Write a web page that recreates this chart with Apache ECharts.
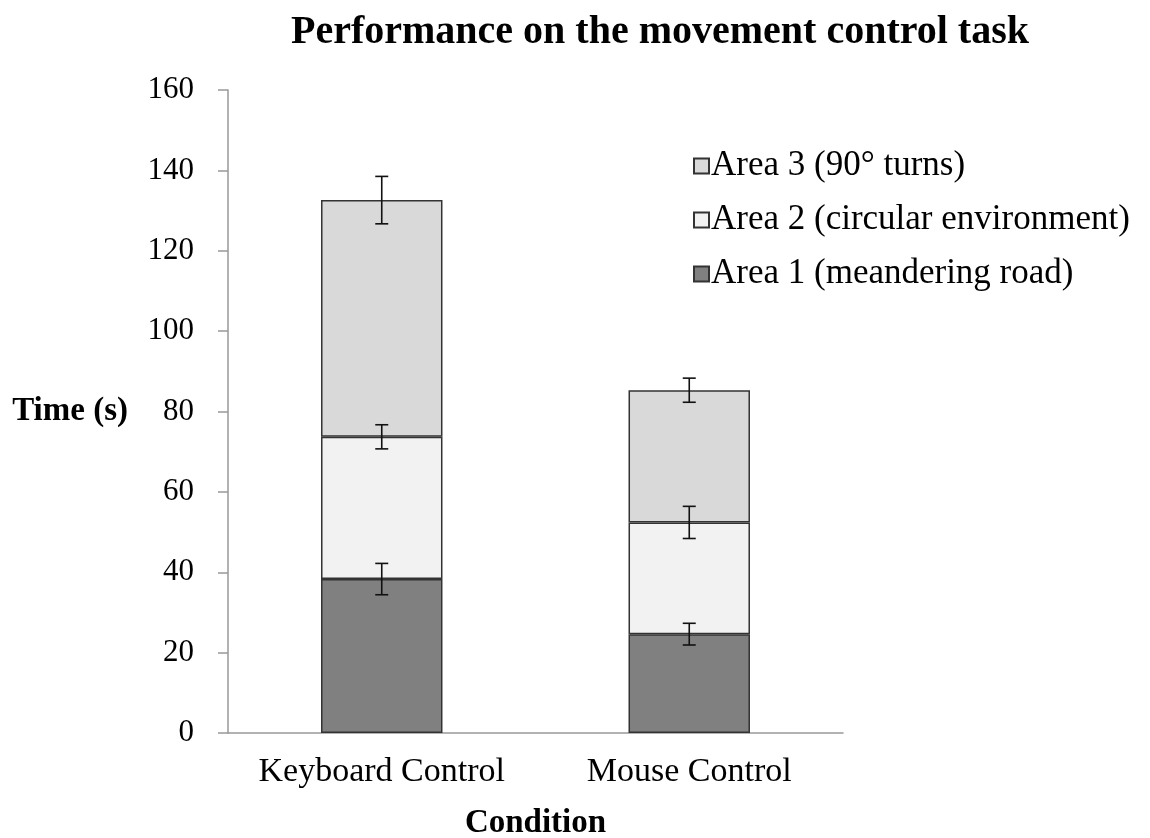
<!DOCTYPE html>
<html>
<head>
<meta charset="utf-8">
<title>Performance on the movement control task</title>
<script src="https://cdn.jsdelivr.net/npm/echarts@6/dist/echarts.min.js"></script>
<style>
    html, body { margin: 0; padding: 0; background: #fff; }
    #chart { width: 1150px; height: 838px; }
</style>
</head>
<body>
<div id="chart"></div>
<script>
// 数据
var categories = ['Keyboard Control', 'Mouse Control'];
var area1 = [38.3, 24.6];
var area2 = [35.4, 27.8];
var area3 = [58.9, 32.9];
var area1Err = [3.9, 2.7];
var area2Err = [3.0, 4.0];
var area3Err = [5.9, 3.0];
var seriesNames = ['Area 1 (meandering road)', 'Area 2 (circular environment)', 'Area 3 (90° turns)'];
var yTicks = [0, 20, 40, 60, 80, 100, 120, 140, 160];

var FONT = '"Liberation Serif", "Times New Roman", serif';

// 误差线数据: 堆叠后每段的顶端
function errData(layers, errs) {
    var out = [];
    for (var i = 0; i < categories.length; i++) {
        var top = 0;
        layers.forEach(function (l) { top += l[i]; });
        out.push([i, top, errs[i]]);
    }
    return out;
}

function renderErr(params, api) {
    var x = api.value(0);
    var top = api.value(1);
    var e = api.value(2);
    var hi = api.coord([x, top + e]);
    var lo = api.coord([x, top - e]);
    var w = 6.5;
    var style = { stroke: '#111', lineWidth: 1.6 };
    return {
        type: 'group',
        children: [
            { type: 'line', shape: { x1: hi[0], y1: hi[1], x2: lo[0], y2: lo[1] }, style: style },
            { type: 'line', shape: { x1: hi[0] - w, y1: hi[1], x2: hi[0] + w, y2: hi[1] }, style: style },
            { type: 'line', shape: { x1: lo[0] - w, y1: lo[1], x2: lo[0] + w, y2: lo[1] }, style: style }
        ]
    };
}

var myChart = echarts.init(document.getElementById('chart'));

var barBorder = { borderColor: '#333', borderWidth: 1.5 };

var option = {
    animation: false,
    backgroundColor: '#fff',
    title: {
        text: 'Performance on the movement control task',
        left: 655,
        textAlign: 'center',
        top: 8,
        textStyle: { fontFamily: FONT, fontSize: 40, fontWeight: 'bold', color: '#000' }
    },
    legend: {
        orient: 'vertical',
        left: 688,
        top: 143,
        itemWidth: 15,
        itemHeight: 15,
        itemGap: 18,
        icon: 'rect',
        data: [seriesNames[2], seriesNames[1], seriesNames[0]],
        textStyle: { fontFamily: FONT, fontSize: 35, lineHeight: 36, color: '#000', padding: [0, 0, 0, -3] }
    },
    grid: { left: 228, right: 307, top: 90, bottom: 105, containLabel: false, outerBoundsMode: 'none' },
    xAxis: {
        type: 'category',
        data: categories,
        name: 'Condition',
        nameLocation: 'middle',
        nameGap: 74,
        nameTextStyle: { fontFamily: FONT, fontSize: 33, fontWeight: 'bold', color: '#000' },
        axisLine: { lineStyle: { color: '#999', width: 1.5 } },
        axisTick: { length: 8, lineStyle: { color: '#999', width: 1.5 } },
        axisLabel: { fontFamily: FONT, fontSize: 34, color: '#000', margin: 22, interval: 0, hideOverlap: false }
    },
    yAxis: {
        type: 'value',
        min: yTicks[0],
        max: yTicks[yTicks.length - 1],
        interval: yTicks[1] - yTicks[0],
        name: 'Time (s)',
        nameLocation: 'middle',
        nameRotate: 0,
        nameGap: 100,
        nameTextStyle: { fontFamily: FONT, fontSize: 33, fontWeight: 'bold', color: '#000', align: 'right' },
        axisLine: { show: true, lineStyle: { color: '#999', width: 1.5 } },
        axisTick: { show: true, length: 10, lineStyle: { color: '#999', width: 1.5 } },
        splitLine: { show: false },
        axisLabel: { fontFamily: FONT, fontSize: 31, color: '#000', margin: 34 }
    },
    series: [
        {
            name: seriesNames[0], type: 'bar', stack: 'total', barWidth: '39.5%',
            data: area1, itemStyle: Object.assign({ color: '#808080' }, barBorder)
        },
        {
            name: seriesNames[1], type: 'bar', stack: 'total',
            data: area2, itemStyle: Object.assign({ color: '#f2f2f2' }, barBorder)
        },
        {
            name: seriesNames[2], type: 'bar', stack: 'total',
            data: area3, itemStyle: Object.assign({ color: '#d9d9d9' }, barBorder)
        },
        { type: 'custom', renderItem: renderErr, data: errData([area1], area1Err), z: 10 },
        { type: 'custom', renderItem: renderErr, data: errData([area1, area2], area2Err), z: 10 },
        { type: 'custom', renderItem: renderErr, data: errData([area1, area2, area3], area3Err), z: 10 }
    ]
};

myChart.setOption(option);
</script>
</body>
</html>
